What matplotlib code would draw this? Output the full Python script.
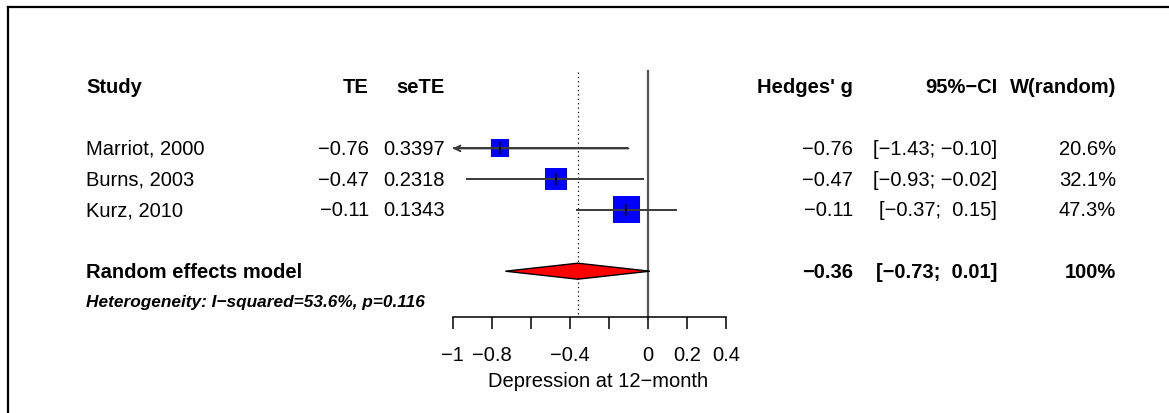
import numpy as np
import matplotlib
matplotlib.use("Agg")
from matplotlib import pyplot as plt
from matplotlib import transforms
from matplotlib.lines import Line2D
from matplotlib.patches import Polygon

plt.rcParams['font.family'] = ['Liberation Sans', 'DejaVu Sans']

# study level data
studies = ["Marriot, 2000", "Burns, 2003", "Kurz, 2010"]
te = [-0.76, -0.47, -0.11]
se_te = [0.3397, 0.2318, 0.1343]
ci_lower = [-1.43, -0.93, -0.37]
ci_upper = [-0.10, -0.02, 0.15]
weights = [20.6, 32.1, 47.3]

# random effects summary
pooled_te = -0.36
pooled_lower = -0.73
pooled_upper = 0.01
heterogeneity = "Heterogeneity: I\u2212squared=53.6%, p=0.116"

x_ticks = [-1.0, -0.8, -0.6, -0.4, -0.2, 0.0, 0.2, 0.4]
x_tick_labels = ["\u22121", "\u22120.8", "", "\u22120.4", "", "0", "0.2", "0.4"]
x_label = "Depression at 12\u2212month"

W, H = 1169, 414
FS = 14.5
LINE_COLOR = "#3a3a3a"


def fmt(v, width=0):
    return f"{v:{width}.2f}".replace("-", "\u2212")


def ci_text(lo, hi):
    return f"[{fmt(lo, 5)}; {fmt(hi, 5)}]"


fig = plt.figure(figsize=(W / 100, H / 100), dpi=100)

# forest panel: x in effect units, y in row units (row 0 = header)
x_min, x_max = x_ticks[0], x_ticks[-1]
px_left, px_right = 452.7, 726.0
row_top, row_h = 88.0, 30.7
ax = fig.add_axes([px_left / W, 0, (px_right - px_left) / W, 1])
ax.set_xlim(x_min, x_max)
ax.set_ylim((H - row_top) / row_h, -row_top / row_h)
ax.patch.set_visible(False)
for side in ("top", "left", "right"):
    ax.spines[side].set_visible(False)
axis_row = 7.5
ax.spines["bottom"].set_position(("data", axis_row))
ax.spines["bottom"].set_bounds(x_min, x_max)
ax.spines["bottom"].set_linewidth(1.1)
ax.yaxis.set_visible(False)
ax.set_xticks(x_ticks)
ax.set_xticklabels(x_tick_labels, fontsize=FS)
ax.tick_params(axis="x", direction="out", length=8.6, width=1.1, pad=11.5)

study_rows = [2, 3, 4]
summary_row = 6
het_row = 7

# reference lines
ax.plot([0, 0], [-0.52, axis_row], color="#555555", lw=1.6, zorder=1)
ax.plot([pooled_te, pooled_te], [-0.48, axis_row], color="black", lw=0.9,
        ls=(0, (1, 2.5)), zorder=1)

# study squares and confidence intervals
side_px = 39.5 * np.sqrt(np.array(weights) / 100)
ax.scatter(te, study_rows, marker="s", s=(side_px * 72 / 100) ** 2,
           color="#0000ff", edgecolors="none", zorder=2)
for y, t, lo, hi in zip(study_rows, te, ci_lower, ci_upper):
    start = max(lo, x_min)
    ax.plot([start, hi], [y, y], color=LINE_COLOR, lw=1.4, zorder=3,
            solid_capstyle="butt")
    if lo < x_min:
        ax.annotate("", xy=(x_min, y), xytext=(hi, y),
                    arrowprops=dict(arrowstyle="->", color=LINE_COLOR, lw=1.4,
                                    shrinkA=0, shrinkB=0, mutation_scale=10),
                    zorder=3)
    ax.plot([t], [y], marker="|", ms=8, mew=1.2, color="black", zorder=4)

# summary diamond
half_h = 8 / row_h
diamond = Polygon([(pooled_lower, summary_row), (pooled_te, summary_row - half_h),
                   (pooled_upper, summary_row), (pooled_te, summary_row + half_h)],
                  closed=True, facecolor="#ff0000", edgecolor="black", lw=1.0, zorder=3)
ax.add_patch(diamond)

ax.text(-0.255, 9.55, x_label, fontsize=FS, ha="center", va="center")

# text columns: x in figure pixels, y in forest rows
tr = transforms.blended_transform_factory(
    transforms.Affine2D().scale(1 / W, 1) + fig.transFigure, ax.transData)

col_study, col_te, col_se = 86, 369, 445
col_g, col_ci, col_w = 853, 997, 1116

bold = dict(fontsize=FS, fontweight="bold", va="center", transform=tr)
ax.text(col_study, 0, "Study", ha="left", **bold)
ax.text(col_te, 0, "TE", ha="right", **bold)
ax.text(col_se, 0, "seTE", ha="right", **bold)
ax.text(col_g, 0, "Hedges' g", ha="right", **bold)
ax.text(col_ci, 0, "95%\u2212CI", ha="right", **bold)
ax.text(col_w, 0, "W(random)", ha="right", **bold)

plain = dict(fontsize=FS, va="center", transform=tr)
for y, name, t, s, lo, hi, w in zip(study_rows, studies, te, se_te,
                                    ci_lower, ci_upper, weights):
    ax.text(col_study, y, name, ha="left", **plain)
    ax.text(col_te, y, fmt(t), ha="right", **plain)
    ax.text(col_se, y, f"{s:.4f}", ha="right", **plain)
    ax.text(col_g, y, fmt(t), ha="right", **plain)
    ax.text(col_ci, y, ci_text(lo, hi), ha="right", **plain)
    ax.text(col_w, y, f"{w:.1f}%", ha="right", **plain)

ax.text(col_study, summary_row, "Random effects model", ha="left", **bold)
ax.text(col_g, summary_row, fmt(pooled_te), ha="right", **bold)
ax.text(col_ci, summary_row, ci_text(pooled_lower, pooled_upper), ha="right", **bold)
ax.text(col_w, summary_row, "100%", ha="right", **bold)
ax.text(col_study, het_row, heterogeneity, ha="left", va="center", transform=tr,
        fontsize=12.4, fontweight="bold", fontstyle="italic")

# page frame
fx, fy = 7.5 / W, 1 - 7.5 / H
fig.add_artist(Line2D([fx, fx], [0, fy], color="black", lw=1.6))
fig.add_artist(Line2D([fx, 1], [fy, fy], color="black", lw=1.6))

fig.savefig("out.png", dpi=100)
